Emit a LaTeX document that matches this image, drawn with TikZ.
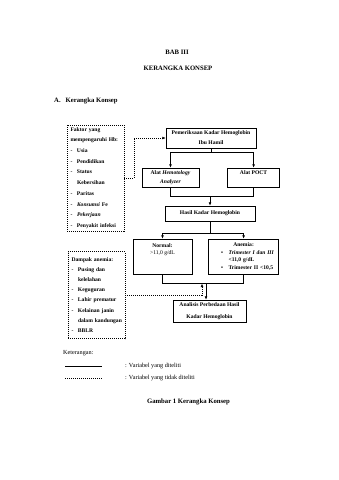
\documentclass[tikz,border=0pt]{standalone}
\usepackage{fontspec}
\setmainfont{Liberation Serif}
\usetikzlibrary{arrows.meta,positioning,calc}
\newcommand\fnt[2]{\fontsize{#1}{#2}\selectfont\bfseries}
\newcommand\itm[1]{\mbox{\makebox[6.5pt][l]{-}#1}}
\newcommand\cnt[1]{\mbox{\hspace*{6.5pt}#1}}
\newcommand\bul[1]{\mbox{\hspace*{8.5pt}\makebox[7.5pt][l]{\textbullet}#1}}

\begin{document}
\begin{tikzpicture}[x=1pt, y=-1pt,
    kotak/.style={draw, line width=0.6pt, inner sep=0pt, align=center, font=\fnt{5.6}{10}},
    titik/.style={draw, line width=0.5pt, dash pattern=on 1pt off 1pt, inner ysep=0pt,
                  inner xsep=3.5pt, text width=50pt, align=left, font=\fnt{5.6}{10.7}},
    judul/.style={inner sep=0pt, font=\fnt{6.7}{8}},
    ket/.style={inner sep=0pt, anchor=west, font=\fontsize{6.2}{7}\selectfont},
    arr/.style={-{Latex[length=3.4pt,width=2.8pt]}, line width=0.6pt},
    dotarr/.style={-{Latex[length=3.4pt,width=2.8pt]}, line width=0.5pt, dash pattern=on 1pt off 1pt}]
    \fill[white] (0,0) rectangle (339,480);
    \useasboundingbox (0,0) rectangle (339,480);
    % judul
    \node[judul] (bab) at (177,52.7) {BAB III};
    \node[judul] (kk) at (178,68) {KERANGKA KONSEP};
    \node[judul, anchor=west] (sub) at (54,100.7) {A.\hspace{5pt}Kerangka Konsep};
    % kolom kanan
    \node[kotak, minimum width=90pt, minimum height=20pt] (pem) at (211,138)
        {Pemeriksaan Kadar Hemoglobin\\Ibu Hamil};
    \node[kotak, minimum width=57pt, minimum height=19pt, font=\fnt{5.6}{9}] (hem) at (170.5,177.5)
        {Alat \textit{Hemotology}\\\textit{Analyzer}};
    \node[kotak, minimum width=52pt, minimum height=19pt, font=\fnt{5.6}{9}, right=28pt of hem] (poct)
        {Alat POCT\\~};
    \node[kotak, minimum width=90pt, minimum height=15pt] (hasil) at (210,213.5) {Hasil Kadar Hemoglobin};
    \node[kotak, minimum width=59pt, minimum height=35pt, font=\fnt{5.6}{7.5}] (normal) at (162.5,256.5)
        {Normal:\\{\mdseries >11,0 g/dL}\\~\\~};
    \node[kotak, minimum width=70pt, minimum height=35pt, inner xsep=4pt, text width=62pt, align=left,
          font=\fnt{5.6}{7.5}, right=16pt of normal] (anemia)
        {\makebox[\linewidth]{Anemia:}\\\bul{\textit{Trimester I dan III}}\\\cnt{\hspace*{9.5pt}<11,0 g/dL}\\\bul{Trimester II <10,5}};
    \node[kotak, minimum width=73pt, minimum height=22pt, font=\fnt{5.6}{12}] (anl) at (209.5,311)
        {Analisis Perbedaan Hasil\\Kadar Hemoglobin};
    % kolom kiri
    \node[titik, minimum height=106pt] (faktor) at (95.5,178)
        {Faktor yang\\mempengaruhi Hb:\\\itm{Usia}\\\itm{Pendidikan}\\\itm{Status}\\\cnt{Kebersihan}\\
         \itm{Paritas}\\\itm{\textit{Konsumsi} Fe}\\\itm{\textit{Pekerjaan}}\\\itm{Penyakit infeksi}};
    \node[titik, minimum height=87pt, font=\fnt{5.6}{10.1}, below=20pt of faktor, xshift=1pt] (dampak)
        {Dampak anemia:\\\itm{Pusing dan}\\\cnt{kelelahan}\\\itm{Keguguran}\\\itm{Lahir prematur}\\
         \itm{Kelainan janin}\\\cnt{dalam kandungan}\\\itm{BBLR}};
    % garis
    \coordinate (j1) at ($(pem.south)+(0,4)$);
    \coordinate (j2) at ($(hasil.north)+(0,-9.5)$);
    \coordinate (j3) at ($(hasil.south)+(0,12)$);
    \coordinate (j4) at ($(anl.north)+(-3.5,-16)$);
    \coordinate (j5) at ($(j4)+(-4,0)$);
    \draw[dotarr] (faktor.east) -- ++(9.5,0) |- (pem.west);
    \draw[line width=0.6pt] (pem.south) -- (j1);
    \draw[arr] (j1) -| (hem.north); \draw[arr] (j1) -| (poct.north);
    \draw[line width=0.6pt] (hem.south) |- (j2) -| (poct.south);
    \draw[arr] (j2) -- (hasil.north);
    \draw[line width=0.6pt] (hasil.south) -- (j3);
    \draw[arr] (j3) -| (normal.north); \draw[arr] (j3) -| (anemia.north);
    \draw[line width=0.6pt] (normal.south) |- (j4) -| (anemia.south);
    \draw[arr] (j4) -- (j4 |- anl.north);
    \draw[dotarr] (dampak.east) -| (j5);
    % keterangan
    \node[ket] (ketr) at (63,353) {Keterangan:};
    \coordinate (l1a) at (65,366); \coordinate (l1b) at (102,366);
    \coordinate (l2a) at (65,378); \coordinate (l2b) at (102,378);
    \draw[line width=0.6pt] (l1a) -- (l1b);
    \draw[line width=0.5pt, dash pattern=on 1pt off 1pt] (l2a) -- (l2b);
    \node[ket] (k1) at (125,366) {: Variabel yang diteliti};
    \node[ket] (k2) at (125,378.5) {: Variabel yang tidak diteliti};
    \node[judul] (gbr) at (188.5,402) {Gambar 1 Kerangka Konsep};
\end{tikzpicture}
\end{document}
